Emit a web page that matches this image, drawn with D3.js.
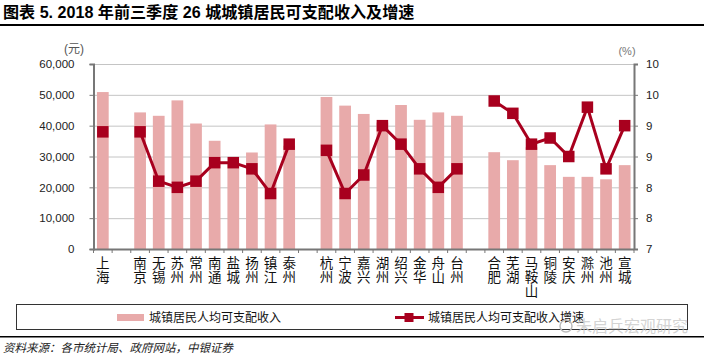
<!DOCTYPE html>
<html><head><meta charset="utf-8">
<script src="https://cdn.jsdelivr.net/npm/d3@7"></script>
<style>
body{margin:0;background:#fff;}
svg{display:block;}
text{font-family:"Liberation Sans","Noto Sans CJK SC",sans-serif;}
</style></head>
<body><svg id="c" width="704" height="359"></svg>
<script>
const cities = ["上海","_g1","南京","无锡","苏州","常州","南通","盐城","扬州","镇江","泰州","_g2","杭州","宁波","嘉兴","湖州","绍兴","金华","舟山","台州","_g3","合肥","芜湖","马鞍山","铜陵","安庆","滁州","池州","宣城"];
const income = [50900,null,44300,43200,48200,40700,35100,28000,31300,40400,33500,null,49300,46500,43800,41000,46700,41900,44300,43200,null,31400,28800,33000,27200,23400,23400,22600,27200];
const growth = [8.9,null,8.9,8.1,8.0,8.1,8.4,8.4,8.3,7.9,8.7,null,8.6,7.9,8.2,9.0,8.7,8.3,8.0,8.3,null,9.4,9.2,8.7,8.8,8.5,9.3,8.3,9.0];
const leftTicks = [0,10000,20000,30000,40000,50000,60000];
const rightTicks = [7,7.5,8,8.5,9,9.5,10];
const seriesNames = ["城镇居民人均可支配收入","城镇居民人均可支配收入增速"];
const title = "图表 5. 2018 年前三季度 26 城城镇居民可支配收入及增速";
const source = "资料来源：各市统计局、政府网站，中银证券";

const svg = d3.select("#c");
const L = 93.5, R = 634, T = 64, B = 249;
const x = d3.scaleBand().domain(cities).range([L, R]).paddingInner(0.37).paddingOuter(0.185);
const yL = d3.scaleLinear().domain([0,60000]).range([B,T]);
const yR = d3.scaleLinear().domain([7,10]).range([B,T]);
const barColor = "#e8aaaa", lineColor = "#a8001e";

// title
svg.append("text").attr("x",3).attr("y",18).attr("font-size",16.1).attr("font-weight","bold")
  .attr("font-family","'Noto Sans CJK SC','Liberation Sans',sans-serif").attr("fill","#000").text(title);
svg.append("rect").attr("x",0).attr("y",24).attr("width",704).attr("height",2).attr("fill","#000");

// gridlines
svg.append("g").selectAll("line").data(leftTicks.filter(d=>d>0)).join("line")
  .attr("x1",L).attr("x2",R).attr("y1",d=>yL(d)+0.5).attr("y2",d=>yL(d)+0.5)
  .attr("stroke","#c4c4c4").attr("stroke-width",1);

// bars
svg.append("g").selectAll("rect").data(cities.map((c,i)=>({c,v:income[i]})).filter(d=>d.v!=null)).join("rect")
  .attr("x",d=>x(d.c)).attr("width",x.bandwidth()).attr("y",d=>yL(d.v)).attr("height",d=>B-yL(d.v))
  .attr("fill",barColor);

// axes
const gl = svg.append("g").attr("transform",`translate(${L},0)`)
  .call(d3.axisLeft(yL).tickValues(leftTicks).tickFormat(d3.format(",")).tickSize(4).tickPadding(15));
const gr = svg.append("g").attr("transform",`translate(${R},0)`)
  .call(d3.axisRight(yR).tickValues(rightTicks).tickFormat(d=>Math.round(d)).tickSize(4).tickPadding(8));
[gl,gr].forEach(g=>{
  g.select(".domain").attr("stroke","#777").attr("stroke-width",2);
  g.selectAll(".tick line").attr("stroke","#777");
  g.selectAll("text").attr("font-size",11.5).attr("fill","#222");
});
// bottom axis
svg.append("line").attr("x1",L).attr("x2",R).attr("y1",B+0.5).attr("y2",B+0.5).attr("stroke","#777").attr("stroke-width",2);
const step = x.step();
svg.append("g").selectAll("line").data(d3.range(cities.length+1)).join("line")
  .attr("x1",i=>L+i*step).attr("x2",i=>L+i*step).attr("y1",B).attr("y2",B+4).attr("stroke","#777");

// category labels (vertical stacked chars)
const lab = svg.append("g");
cities.forEach(c=>{
  if(c.startsWith("_")) return;
  const cx = x(c)+x.bandwidth()/2;
  [...c].forEach((ch,j)=>{
    lab.append("text").attr("x",cx).attr("y",B+19+j*14).attr("text-anchor","middle")
      .attr("font-size",13.5).attr("font-family","'Noto Sans CJK SC',sans-serif").attr("fill","#111").text(ch);
  });
});

// unit labels
svg.append("text").attr("x",74).attr("y",53).attr("text-anchor","middle").attr("font-size",12)
  .attr("font-family","'Noto Sans CJK SC',sans-serif").attr("fill","#555").text("(元)");
svg.append("text").attr("x",627).attr("y",55).attr("text-anchor","middle").attr("font-size",11)
  .attr("fill","#777").text("(%)");

// line
const pts = cities.map((c,i)=>({c,v:growth[i]}));
const line = d3.line().defined(d=>d.v!=null).x(d=>x(d.c)+x.bandwidth()/2).y(d=>yR(d.v));
svg.append("path").datum(pts).attr("d",line).attr("fill","none").attr("stroke",lineColor).attr("stroke-width",3);
svg.append("g").selectAll("rect").data(pts.filter(d=>d.v!=null)).join("rect")
  .attr("x",d=>x(d.c)+x.bandwidth()/2-5.75).attr("y",d=>yR(d.v)-5.75).attr("width",11.5).attr("height",11.5)
  .attr("fill",lineColor);

// legend
svg.append("rect").attr("x",16.5).attr("y",304.5).attr("width",671).attr("height",25)
  .attr("fill","none").attr("stroke","#333").attr("stroke-width",1);
svg.append("rect").attr("x",117).attr("y",314).attr("width",27).attr("height",7).attr("fill",barColor);
svg.append("text").attr("x",149).attr("y",322).attr("font-size",12).attr("font-family","'Noto Sans CJK SC',sans-serif")
  .attr("fill","#111").text(seriesNames[0]);
svg.append("line").attr("x1",395).attr("x2",424).attr("y1",317.5).attr("y2",317.5).attr("stroke",lineColor).attr("stroke-width",3);
svg.append("rect").attr("x",404.5).attr("y",313).attr("width",9).attr("height",9).attr("fill",lineColor);
svg.append("text").attr("x",428).attr("y",322).attr("font-size",12).attr("font-family","'Noto Sans CJK SC',sans-serif")
  .attr("fill","#111").text(seriesNames[1]);

// watermark
svg.append("circle").attr("cx",566).attr("cy",326).attr("r",6).attr("fill","none").attr("stroke","#bbb").attr("stroke-width",1.5);
svg.append("text").attr("x",576).attr("y",332).attr("font-size",16).attr("font-family","'Noto Sans CJK SC',sans-serif")
  .attr("fill","#c8c8c8").attr("fill-opacity",0.8).text("朱启兵宏观研究");

// source
svg.append("rect").attr("x",0).attr("y",336).attr("width",704).attr("height",1.5).attr("fill","#000");
svg.append("text").attr("x",3).attr("y",352).attr("font-size",11.5).attr("font-style","italic")
  .attr("font-family","'Noto Sans CJK SC',sans-serif").attr("fill","#222").text(source);
</script></body></html>
